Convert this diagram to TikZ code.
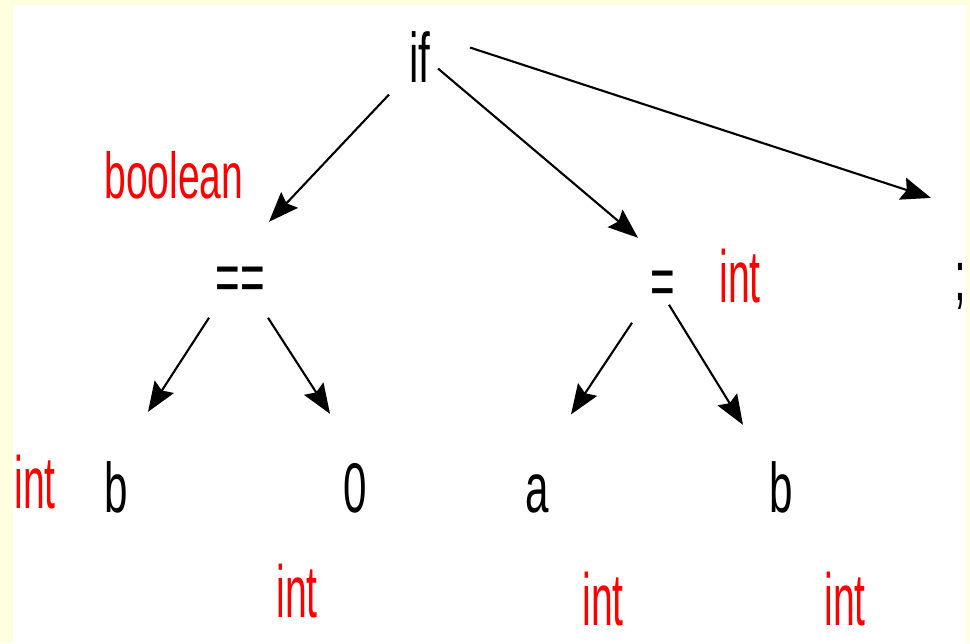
\documentclass[tikz,border=0pt]{standalone}
\usepackage{fontspec}
\setmainfont{Liberation Sans}
\newfontfamily\treefont[FakeStretch=0.6]{Liberation Sans}
\newfontfamily\typefont[FakeStretch=0.53]{Liberation Sans}
\usetikzlibrary{arrows.meta,calc}
\definecolor{paleyellow}{RGB}{255,255,224}
\tikzset{
  tok/.style={anchor=base, inner sep=0pt, font=\treefont\fontsize{40}{40}\selectfont},
  typ/.style={tok, text=red, font=\typefont\fontsize{42}{42}\selectfont},
  tree arrow/.style={line width=1.2pt, -{Stealth[length=17pt,width=13pt,inset=2.5pt]}}
}
\begin{document}
\begin{tikzpicture}[x=0.02cm, y=-0.02cm]
  % frame
  \fill[paleyellow] (0,0) rectangle (970,643);
  \fill[white] (13,5) rectangle (966,643);
  \useasboundingbox (0,0) rectangle (970,643);

  % tokens
  \node[tok] (if) at (420,82) {if};
  \node[tok] (eqeq) at (240,301) {==};
  \node[tok] (assign) at (663,305) {=};
  \node[tok] (semi) at (960,300) {;};
  \node[tok] (bl) at (116,512) {b};
  \node[tok] (zero) at (355,512) {0};
  \node[tok] (a) at (537,512) {a};
  \node[tok] (br) at (781,512) {b};

  % types
  \node[typ, font=\treefont\fontsize{37}{37}\selectfont] (tbool) at (174,198) {boolean};
  \node[typ] (tassign) at (740,302) {int};
  \node[typ] (tbl) at (35,508) {int};
  \node[typ] (tzero) at (297,617) {int};
  \node[typ] (ta) at (603,625) {int};
  \node[typ] (tbr) at (845,625) {int};

  % edges
  \draw[tree arrow] ($(if)+(-31,38)$) -- ($(eqeq)+(29,-62)$);
  \draw[tree arrow] ($(if)+(18,12)$) -- ($(assign)+(-25,-50)$);
  \draw[tree arrow] ($(if)+(50,-9)$) -- ($(semi)+(-29,-88)$);
  \draw[tree arrow] ($(eqeq)+(-31,34)$) -- ($(bl)+(32,-75)$);
  \draw[tree arrow] ($(eqeq)+(28,34)$) -- ($(zero)+(-25,-74)$);
  \draw[tree arrow] ($(assign)+(-31,35)$) -- ($(a)+(34,-79)$);
  \draw[tree arrow] ($(assign)+(6,17)$) -- ($(br)+(-38,-62)$);
\end{tikzpicture}
\end{document}
